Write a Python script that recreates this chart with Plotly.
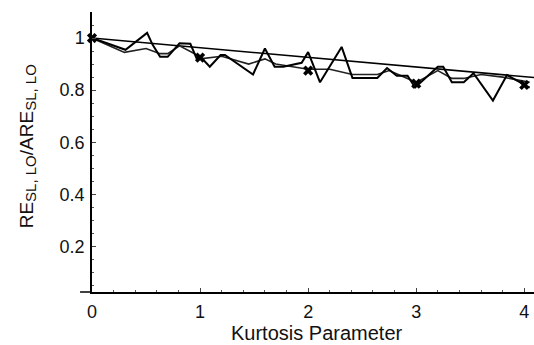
import plotly.graph_objects as go

# Straight reference line (ARE trend)
ref_x = [0.0, 4.1]
ref_y = [1.0, 0.848]

# Jagged simulated series A
a_x = [0.0, 0.31, 0.51, 0.56, 0.63, 0.70, 0.81, 0.91, 0.97, 1.0, 1.09, 1.19, 1.23,
       1.49, 1.60, 1.69, 1.77, 1.94, 2.0, 2.11, 2.31, 2.41, 2.64, 2.73, 2.82, 2.92,
       2.99, 3.2, 3.25, 3.33, 3.44, 3.53, 3.71, 3.84, 4.05]
a_y = [1.0, 0.955, 1.02, 0.975, 0.928, 0.928, 0.98, 0.978, 0.92, 0.93, 0.89, 0.935, 0.935,
       0.86, 0.96, 0.89, 0.89, 0.905, 0.946, 0.83, 0.966, 0.847, 0.847, 0.885, 0.855, 0.855,
       0.81, 0.89, 0.89, 0.83, 0.83, 0.865, 0.76, 0.858, 0.81]

# Smoother simulated series B
b_x = [0.0, 0.3, 0.5, 0.63, 0.70, 0.81, 0.95, 1.0, 1.2, 1.45, 1.6, 1.7, 2.0, 2.2,
       2.41, 2.64, 2.75, 3.0, 3.2, 3.33, 3.44, 3.6, 3.8, 4.05]
b_y = [1.0, 0.945, 0.96, 0.94, 0.94, 0.97, 0.94, 0.92, 0.93, 0.9, 0.92, 0.9, 0.88, 0.88,
       0.86, 0.86, 0.875, 0.83, 0.875, 0.845, 0.845, 0.86, 0.85, 0.83]

# Markers at integer kurtosis values
m_x = [0, 1, 2, 3, 4]
m_y = [1.0, 0.925, 0.875, 0.825, 0.82]

x_ticks = [0, 1, 2, 3, 4]
y_ticks = [0.2, 0.4, 0.6, 0.8, 1.0]
y_tick_text = ["0.2", "0.4", "0.6", "0.8", "1"]

FONT = "Liberation Sans, Arial, sans-serif"

fig = go.Figure()
fig.add_trace(go.Scatter(x=ref_x, y=ref_y, mode="lines",
                         line=dict(color="black", width=1.6), showlegend=False))
fig.add_trace(go.Scatter(x=b_x, y=b_y, mode="lines",
                         line=dict(color="#222", width=1.6), showlegend=False))
fig.add_trace(go.Scatter(x=a_x, y=a_y, mode="lines",
                         line=dict(color="black", width=2), showlegend=False))
fig.add_trace(go.Scatter(x=m_x, y=m_y, mode="markers",
                         marker=dict(symbol="x", size=9, color="black",
                                     line=dict(width=0)),
                         showlegend=False, cliponaxis=False))

fig.update_layout(
    width=534, height=345,
    margin=dict(l=92, r=0, t=12, b=53),
    paper_bgcolor="white", plot_bgcolor="white",
    font=dict(family=FONT, color="#111", size=18),
    xaxis=dict(range=[0, 4.09], tickvals=x_ticks, ticks="inside", ticklen=4,
               showline=True, linecolor="black", linewidth=1.5,
               showgrid=False, zeroline=False, ticklabelstandoff=3,
               ticklabeloverflow="allow",
               minor=dict(dtick=0.2, ticks="inside", ticklen=2, tickcolor="#555"),
               tickfont=dict(size=18)),
    yaxis=dict(range=[0.025, 1.1], tickvals=y_ticks, ticktext=y_tick_text,
               ticks="inside", ticklen=4, showline=True, linecolor="black",
               linewidth=1.5, showgrid=False, zeroline=False, ticklabelstandoff=2,
               minor=dict(dtick=0.05, ticks="inside", ticklen=2, tickcolor="#555"),
               tickfont=dict(size=18)),
    shapes=[dict(type="line", xref="paper", yref="paper", x0=-0.027, x1=0,
                 y0=0, y1=0, line=dict(color="black", width=1.5))],
    annotations=[
        dict(text="Kurtosis Parameter", xref="paper", yref="paper",
             x=0.51, y=-0.145, xanchor="center", yanchor="middle",
             showarrow=False, font=dict(size=20)),
        dict(text="RE<sub><span style='font-size:15px'>SL, LO</span></sub>/ARE"
                  "<sub><span style='font-size:15px'>SL, LO</span></sub>",
             xref="paper", yref="paper", x=-0.145, y=0.52,
             xanchor="center", yanchor="middle", textangle=-90,
             showarrow=False, font=dict(size=19)),
    ],
)

fig.write_html("out.html", config={"displayModeBar": False},
               post_script="document.body.style.margin='0';document.body.style.overflow='hidden';")
